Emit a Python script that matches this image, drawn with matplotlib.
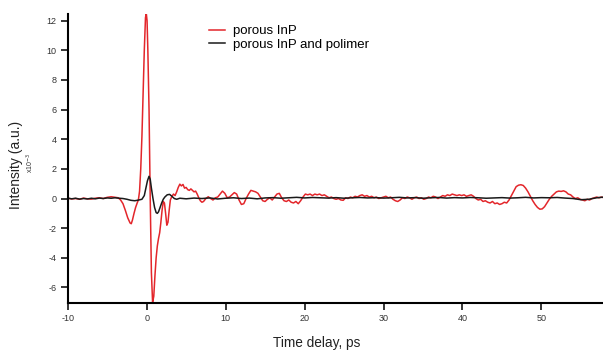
import matplotlib
matplotlib.use("Agg")
import matplotlib.pyplot as plt

plt.rcParams['font.family'] = ['Liberation Sans', 'DejaVu Sans']
plt.rcParams['axes.unicode_minus'] = False

# porous InP (red), intensity in units of 1e-3
t_red = [-10, -9.5, -9, -8.5, -8, -7.5, -7, -6.5, -6, -5.5, -5, -4.5, -4,
         -3.6, -3.3, -3.0, -2.7, -2.4, -2.1, -1.95, -1.8, -1.6, -1.4, -1.2, -1.05,
         -0.9, -0.75, -0.6, -0.45, -0.3, -0.15, -0.05, 0.05, 0.15, 0.3, 0.45, 0.6,
         0.75, 0.9, 1.05, 1.2, 1.35, 1.5, 1.65, 1.8, 1.95, 2.1, 2.25, 2.4, 2.55,
         2.7, 2.85, 3.0, 3.2, 3.4, 3.6, 3.8, 4.0, 4.2, 4.4, 4.6, 4.8, 5.0, 5.2,
         5.4, 5.6, 5.8, 6.0, 6.2, 6.4, 6.6, 6.8, 7.0, 7.2, 7.5, 7.8, 8.1, 8.4,
         8.7, 9.0, 9.3, 9.6, 9.9, 10.2, 10.5, 10.8, 11.1, 11.4, 11.7, 12.0, 12.3,
         12.6, 12.9, 13.2, 13.5, 13.8, 14.1, 14.4, 14.7, 15.0, 15.3, 15.6, 15.9,
         16.2, 16.5, 16.8, 17.1, 17.4, 17.7, 18.0, 18.3, 18.6, 18.9, 19.2, 19.5,
         19.8, 20.1, 20.4, 20.7, 21.0, 21.3, 21.6, 21.9, 22.2, 22.5, 22.8, 23.1,
         23.4, 23.7, 24.0, 24.3, 24.6, 24.9, 25.2, 25.5, 25.8, 26.1, 26.4, 26.7,
         27.0, 27.3, 27.6, 27.9, 28.2, 28.5, 28.8, 29.1, 29.4, 29.7, 30.0, 30.3,
         30.6, 30.9, 31.2, 31.5, 31.8, 32.1, 32.4, 32.7, 33.0, 33.3, 33.6, 33.9,
         34.2, 34.5, 34.8, 35.1, 35.4, 35.7, 36.0, 36.3, 36.6, 36.9, 37.2, 37.5,
         37.8, 38.1, 38.4, 38.7, 39.0, 39.3, 39.6, 39.9, 40.2, 40.5, 40.8, 41.1,
         41.4, 41.7, 42.0, 42.3, 42.6, 42.9, 43.2, 43.5, 43.8, 44.1, 44.4, 44.7,
         45.0, 45.3, 45.6, 45.9, 46.2, 46.5, 46.8, 47.1, 47.4, 47.7, 48.0, 48.3,
         48.6, 48.9, 49.2, 49.5, 49.8, 50.1, 50.4, 50.7, 51.0, 51.3, 51.6, 51.9,
         52.2, 52.5, 52.8, 53.1, 53.4, 53.7, 54.0, 54.3, 54.6, 54.9, 55.2, 55.5,
         55.8, 56.1, 56.4, 56.7, 57.0, 57.3, 57.6, 57.9]
y_red = [0.02, -0.03, 0.0, -0.05, 0.03, -0.02, -0.04, 0.02, 0.05, 0.0, 0.08, 0.12, 0.08,
         0.05, -0.1, -0.35, -0.8, -1.3, -1.65, -1.7, -1.45, -1.0, -0.6, -0.3, -0.1,
         0.5, 2.0, 4.2, 7.0, 10.0, 12.2, 12.5, 12.0, 10.0, 6.0, 0.0, -5.0,
         -7.0, -6.6, -5.2, -4.0, -3.2, -2.7, -2.3, -1.6, -0.8, -0.2, -0.3, -1.0, -1.8,
         -1.6, -0.8, -0.1, 0.15, 0.3, 0.2, 0.45, 0.75, 0.97, 0.85, 0.95, 0.7, 0.75, 0.6,
         0.55, 0.65, 0.55, 0.45, 0.5, 0.3, 0.05, -0.15, -0.25, -0.2, 0.0, 0.12, 0.0, -0.1,
         0.05, 0.1, 0.3, 0.5, 0.35, 0.05, 0.1, 0.25, 0.4, 0.3, -0.1, -0.4, -0.35,
         0.0, 0.3, 0.55, 0.5, 0.45, 0.35, 0.1, -0.15, -0.2, -0.05, 0.05, -0.1,
         0.1, 0.3, 0.35, 0.05, -0.15, -0.2, -0.1, -0.25, -0.3, -0.2, -0.35, -0.15,
         0.1, 0.3, 0.25, 0.3, 0.2, 0.3, 0.25, 0.3, 0.2, 0.25, 0.15, 0.05,
         0.1, 0.0, -0.05, 0.0, -0.1, -0.12, 0.05, 0.0, 0.1, 0.05, 0.15, 0.1,
         0.2, 0.25, 0.15, 0.2, 0.1, 0.15, 0.05, 0.1, 0.0, 0.05, 0.1, 0.15,
         0.05, 0.1, -0.05, -0.15, -0.2, -0.1, 0.05, 0.0, 0.1, 0.05, -0.05, 0.05,
         0.1, 0.0, 0.05, -0.05, 0.0, 0.1, 0.05, 0.15, 0.1, 0.0, 0.1, 0.2,
         0.15, 0.25, 0.2, 0.3, 0.25, 0.2, 0.25, 0.2, 0.25, 0.15, 0.2, 0.25,
         0.15, 0.0, -0.1, -0.05, -0.2, -0.15, -0.25, -0.3, -0.2, -0.35, -0.3, -0.4,
         -0.35, -0.25, -0.3, -0.1, 0.2, 0.5, 0.8, 0.9, 0.93, 0.88, 0.7, 0.45,
         0.15, -0.15, -0.4, -0.6, -0.72, -0.7, -0.55, -0.3, -0.05, 0.15, 0.3, 0.45,
         0.5, 0.48, 0.52, 0.45, 0.3, 0.25, 0.1, 0.0, 0.05, -0.05, -0.1, -0.15,
         -0.05, -0.1, 0.0, 0.05, 0.1, 0.05, 0.1, 0.05]

# porous InP and polimer (black)
t_blk = [-10, -9.5, -9, -8.5, -8, -7.5, -7, -6.5, -6, -5.5, -5, -4.5, -4, -3.5, -3,
         -2.5, -2, -1.5, -1.0, -0.6, -0.3, -0.1, 0.1, 0.3, 0.45, 0.6, 0.8, 1.0,
         1.2, 1.35, 1.5, 1.7, 1.9, 2.1, 2.3, 2.6, 2.9, 3.2, 3.5, 3.8, 4.2, 5, 6,
         7, 8, 9, 10, 11, 12, 13, 14, 15, 16, 17, 18, 19, 20, 21, 22, 23, 24, 25,
         26, 27, 28, 29, 30, 31, 32, 33, 34, 35, 36, 37, 38, 39, 40, 41, 42, 43,
         44, 45, 46, 47, 48, 49, 50, 51, 52, 53, 54, 55, 56, 57, 58]
y_blk = [0.03, -0.02, 0.02, -0.04, 0.0, -0.03, 0.02, -0.02, 0.03, 0.0, 0.04, 0.02, 0.05, 0.02, 0.0,
         -0.05, -0.12, -0.15, -0.1, -0.05, 0.2, 0.7, 1.2, 1.5, 1.3, 0.7, 0.0, -0.6,
         -0.95, -1.0, -0.9, -0.6, -0.3, -0.05, 0.1, 0.25, 0.28, 0.15, 0.0, -0.05, 0.02, -0.02, 0.03,
         0.0, 0.04, -0.03, 0.02, 0.05, 0.0, 0.03, -0.02, 0.04, 0.06, 0.02, 0.05, 0.08, 0.04, 0.07, 0.05,
         0.03, 0.06, 0.02, 0.05, 0.07, 0.04, 0.06, 0.03, 0.05, 0.08, 0.04, 0.06, 0.02, 0.05, 0.07, 0.03,
         0.06, 0.04, 0.07, 0.05, 0.02, 0.04, 0.06, 0.03, 0.05, 0.08, 0.04, 0.06, 0.05,
         0.07, 0.03, 0.0, -0.08, -0.05, 0.05, 0.1]

labels = ['porous InP', 'porous InP and polimer']
xticks = [-10, 0, 10, 20, 30, 40, 50]
yticks = [-6, -4, -2, 0, 2, 4, 6, 8, 10, 12]

fig = plt.figure(figsize=(6.03, 3.5), dpi=100)
ax = fig.add_axes([0.1123, 0.1334, 0.8877, 0.8266])

ax.plot(t_red, y_red, color='#e3262b', lw=1.1, label=labels[0])
ax.plot(t_blk, y_blk, color='#1a1a1a', lw=1.1, label=labels[1])

ax.set_xlim(-10, 57.8)
ax.set_ylim(-7.07, 12.45)
ax.set_xticks(xticks)
ax.set_yticks(yticks)

for s in ['top', 'right']:
    ax.spines[s].set_visible(False)
for s in ['left', 'bottom']:
    ax.spines[s].set_linewidth(1.5)
ax.tick_params(direction='out', length=5, width=1.1, labelsize=6.5,
               labelcolor='#333333', pad=3)

fig.text(316.7 / 603, 1 - 342.7 / 350, 'Time delay, ps', ha='center', va='center',
         fontsize=9.8, color='#222222')
fig.text(16 / 603, 1 - 165 / 350, 'Intensity (a.u.)', ha='center', va='center',
         rotation=90, fontsize=10, color='#222222')
fig.text(30 / 603, 1 - 163 / 350, r'x10$^{-3}$', ha='center', va='center',
         rotation=90, fontsize=5, color='#333333')

ax.legend(loc='upper left', bbox_to_anchor=(209 / 603, 1 - 25 / 350),
          bbox_transform=fig.transFigure, frameon=False, fontsize=9.5,
          handlelength=1.2, handletextpad=0.6, labelspacing=0.08,
          borderpad=0, borderaxespad=0)

plt.savefig('out.png', dpi=100)
